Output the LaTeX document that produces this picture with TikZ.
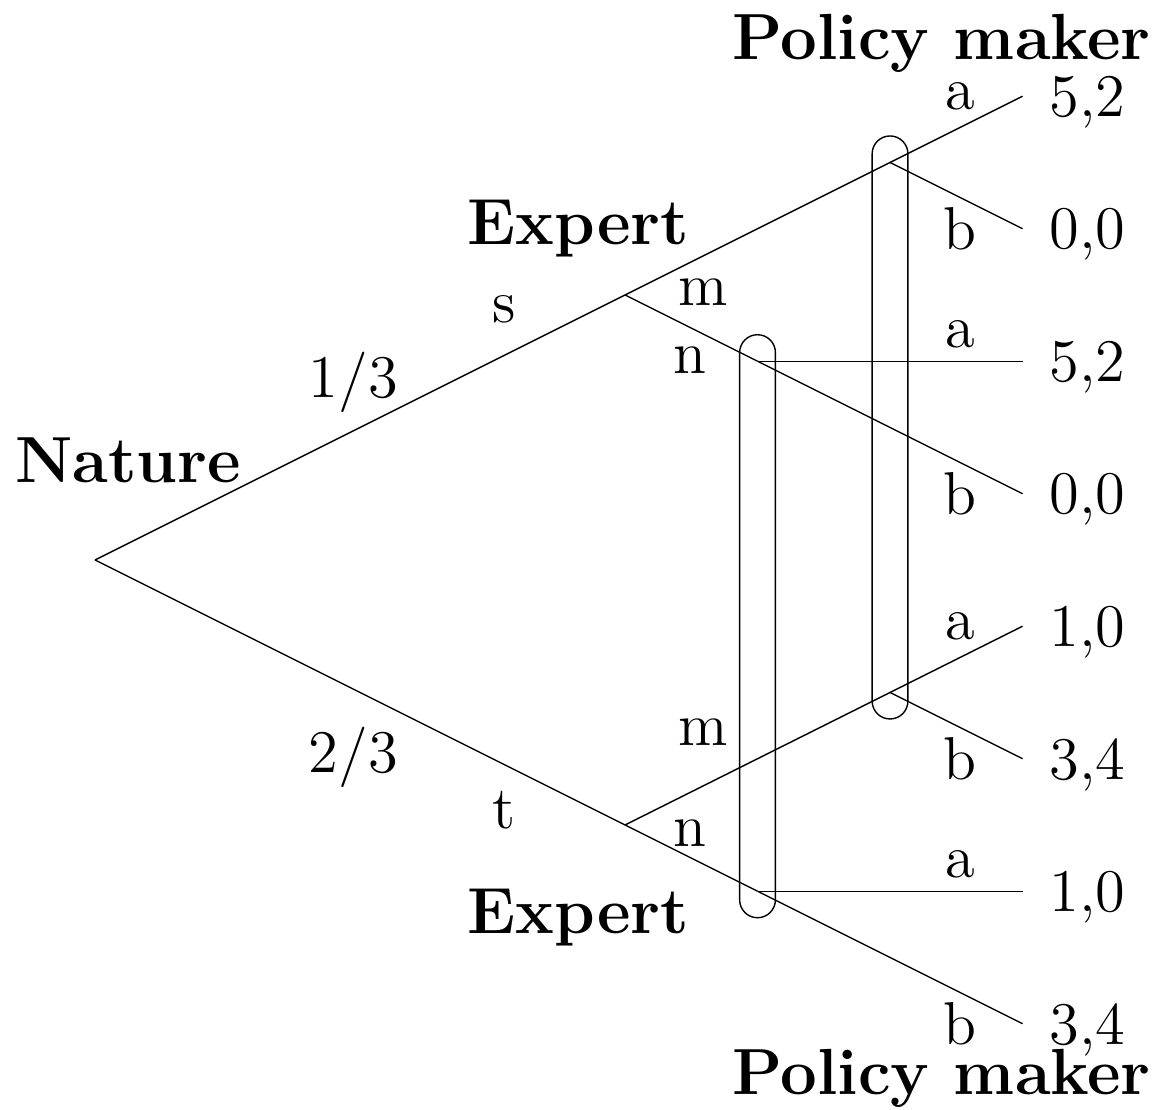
\documentclass[tikz,border=0pt]{standalone}
\usepackage{tikz}
\usetikzlibrary{calc, positioning}

\tikzset{
  player/.style={font=\fontsize{14}{17}\selectfont\bfseries},
  lbl/.style={font=\fontsize{13}{15}\selectfont},
  payoff/.style={font=\fontsize{13}{15}\selectfont, text depth=0pt, inner sep=0pt},
  infoset/.style={rounded corners=1.35mm},
}

\begin{document}
\begin{tikzpicture}[line width=0.3pt]
\useasboundingbox (-0.717,-4.151) rectangle (8.06,4.226);

% Decision nodes
\coordinate (root) at (0,0);
\coordinate (es) at (4,2);
\coordinate (et) at (4,-2);
\coordinate (sm) at (6,3);
\coordinate (sn) at (5,1.5);
\coordinate (tm) at (6,-1);
\coordinate (tn) at (5,-2.5);

% Terminal nodes
\coordinate (z1) at (7,3.5);
\coordinate (z2) at (7,2.5);
\coordinate (z3) at (7,1.5);
\coordinate (z4) at (7,0.5);
\coordinate (z5) at (7,-0.5);
\coordinate (z6) at (7,-1.5);
\coordinate (z7) at (7,-2.5);
\coordinate (z8) at (7,-3.5);

% Branches
\draw (root) -- (es);
\draw (root) -- (et);
\draw (es) -- (sm);
\draw (es) -- (sn);
\draw (et) -- (tm);
\draw (et) -- (tn);
\draw (sm) -- (z1);
\draw (sm) -- (z2);
\draw (sn) -- (z3);
\draw (sn) -- (z4);
\draw (tm) -- (z5);
\draw (tm) -- (z6);
\draw (tn) -- (z7);
\draw (tn) -- (z8);

% Information sets
\draw[infoset] ($(sm)+(-0.135,0.2)$) rectangle ($(tm)+(0.135,-0.2)$);
\draw[infoset] ($(sn)+(-0.135,0.2)$) rectangle ($(tn)+(0.135,-0.2)$);

% Payoffs
\node[payoff, anchor=west, right=0.2cm of z1] (p1) {5,2};
\node[payoff, anchor=west, right=0.2cm of z2] (p2) {0,0};
\node[payoff, anchor=west, right=0.2cm of z3] (p3) {5,2};
\node[payoff, anchor=west, right=0.2cm of z4] (p4) {0,0};
\node[payoff, anchor=west, right=0.2cm of z5] (p5) {1,0};
\node[payoff, anchor=west, right=0.2cm of z6] (p6) {3,4};
\node[payoff, anchor=west, right=0.2cm of z7] (p7) {1,0};
\node[payoff, anchor=west, right=0.2cm of z8] (p8) {3,4};

% Players
\node[player] (nature) at (0.25,0.75) {Nature};
\node[player] (expS) at (3.65,2.5) {Expert};
\node[player] (expT) at (3.65,-2.7) {Expert};
\node[player] (pmTop) at (6.39,3.9) {Policy maker};
\node[player] (pmBot) at (6.39,-3.91) {Policy maker};

% Action labels
\node[lbl] (pS) at (1.95,1.34) {1/3};
\node[lbl] (pT) at (1.95,-1.49) {2/3};
\node[lbl] (aS) at (3.09,1.89) {s};
\node[lbl] (aT) at (3.09,-1.89) {t};
\node[lbl] (mS) at (4.59,2.02) {m};
\node[lbl] (nS) at (4.49,1.51) {n};
\node[lbl] (mT) at (4.59,-1.30) {m};
\node[lbl] (nT) at (4.49,-2.06) {n};
\node[lbl] (a1) at (6.53,3.5) {a};
\node[lbl] (b1) at (6.53,2.5) {b};
\node[lbl] (a2) at (6.53,1.7) {a};
\node[lbl] (b2) at (6.53,0.5) {b};
\node[lbl] (a3) at (6.53,-0.5) {a};
\node[lbl] (b3) at (6.53,-1.5) {b};
\node[lbl] (a4) at (6.53,-2.3) {a};
\node[lbl] (b4) at (6.53,-3.5) {b};
\end{tikzpicture}
\end{document}
